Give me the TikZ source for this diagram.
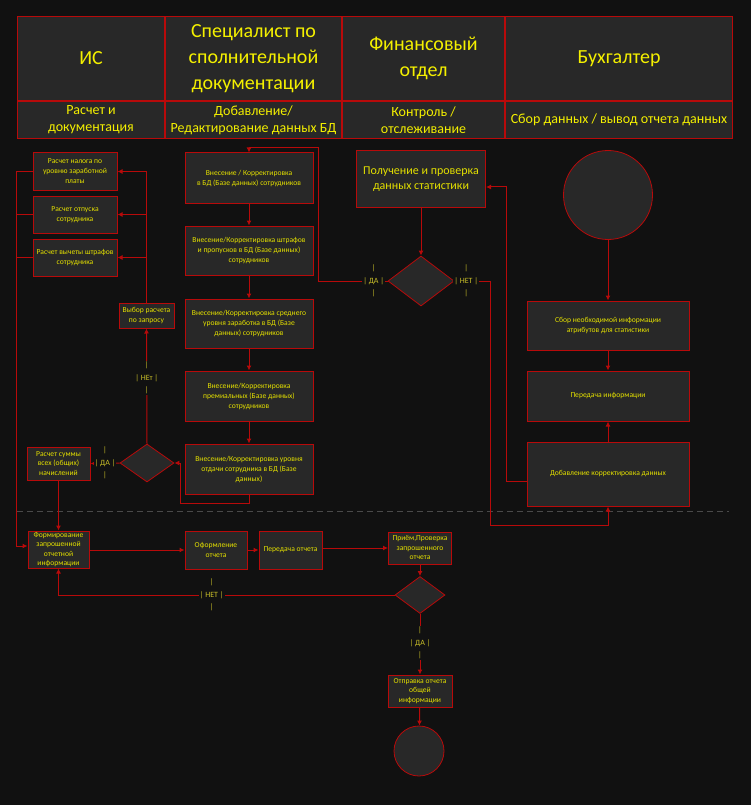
\documentclass[tikz,border=0pt]{standalone}
\usepackage{fontspec}
\setmainfont{Carlito}
\usetikzlibrary{arrows.meta, positioning, shapes.geometric}
\definecolor{bg}{HTML}{111111}
\definecolor{boxbg}{HTML}{282828}
\definecolor{brd}{HTML}{B80A0A}
\definecolor{txt}{HTML}{E4E000}
\definecolor{hdrtxt}{HTML}{F4F000}
\definecolor{lbltxt}{HTML}{C8BE28}
\definecolor{dashgray}{HTML}{4A4A4A}

\begin{document}
\begin{tikzpicture}[x=1pt, y=-1pt,
  blok/.style={draw=brd, line width=1pt, fill=boxbg, text=txt, align=center, inner sep=0pt, font=\fontsize{7.6}{10}\selectfont},
  romb/.style={draw=brd, line width=0.8pt, fill=boxbg, shape=diamond, inner sep=0pt},
  krug/.style={draw=brd, line width=0.8pt, fill=boxbg, shape=circle, inner sep=0pt},
  hdr/.style={draw=brd, line width=1pt, fill=boxbg, text=hdrtxt, align=center, inner sep=0pt, minimum height=84, font=\fontsize{20}{26}\selectfont},
  sub/.style={hdr, minimum height=37, font=\fontsize{14}{17}\selectfont},
  ln/.style={draw=brd, line width=1pt},
  arr/.style={ln, -{Latex[length=5pt, width=5pt]}},
  lbl/.style={fill=bg, text=lbltxt, inner sep=1pt, align=center, font=\fontsize{8}{12.5}\selectfont}]

  % Background and picture size
  \fill[bg] (0,0) rectangle (751,805);

  % Header of lanes
  \node[hdr, minimum width=147, anchor=north west] (hIS) at (17,16) {ИС};
  \node[hdr, minimum width=176, right=0pt of hIS] (hSpec) {Специалист по\\сполнительной\\документации};
  \node[hdr, minimum width=162, right=0pt of hSpec] (hFin) {Финансовый\\отдел};
  \node[hdr, minimum width=227, right=0pt of hFin] (hBuh) {Бухгалтер};
  \node[sub, minimum width=147, below=0pt of hIS] (sIS) {Расчет и\\документация};
  \node[sub, minimum width=176, below=0pt of hSpec] (sSpec) {Добавление/\\Редактирование данных БД};
  \node[sub, minimum width=162, below=0pt of hFin] (sFin) {Контроль /\\отслеживание};
  \node[sub, minimum width=227, below=0pt of hBuh] (sBuh) {Сбор данных / вывод отчета данных};

  % Lane IS
  \node[blok, minimum width=84, minimum height=37] (nalog) at (75,171.5) {Расчет налога по\\уровню заработной\\платы};
  \node[blok, minimum width=84, minimum height=37] (otpusk) at (75,214.5) {Расчет отпуска\\сотрудника};
  \node[blok, minimum width=84, minimum height=37] (shtraf) at (75,257.5) {Расчет вычеты штрафов\\сотрудника};
  \node[blok, minimum width=55, minimum height=25] (vybor) at (146.5,315.5) {Выбор расчета\\по запросу};
  \node[romb, minimum width=54, minimum height=38] (rIS) at (147,463) {};
  \node[blok, minimum width=63, minimum height=33, font=\fontsize{7.6}{9.3}\selectfont] (summa) at (58.5,463.5) {Расчет суммы\\всех (общих)\\начислений};

  % Lane specialist
  \node[blok, minimum width=128, minimum height=50] (vn1) at (249,178) {Внесение / Корректировка\\в БД (Базе данных) сотрудников};
  \node[blok, minimum width=128, minimum height=49] (vn2) at (249,250.5) {Внесение/Корректировка штрафов\\и пропусков в БД (Базе данных)\\сотрудников};
  \node[blok, minimum width=128, minimum height=49] (vn3) at (249,323.5) {Внесение/Корректировка среднего\\уровня заработка в БД (Базе\\данных) сотрудников};
  \node[blok, minimum width=128, minimum height=50] (vn4) at (249,396) {Внесение/Корректировка\\премиальных (Базе данных)\\сотрудников};
  \node[blok, minimum width=128, minimum height=50] (vn5) at (249,469) {Внесение/Корректировка уровня\\отдачи сотрудника в БД (Базе\\данных)};

  % Lane finance
  \node[blok, minimum width=129, minimum height=56, font=\fontsize{12}{15}\selectfont] (pol) at (421,179) {Получение и проверка\\данных статистики};
  \node[romb, minimum width=66, minimum height=50] (rFin) at (421,281) {};

  % Lane accountant
  \node[krug, minimum size=89] (start) at (608,195) {};
  \node[blok, minimum width=162, minimum height=49] (sbor) at (608,325.5) {Сбор необходимой информации\\атрибутов для статистики};
  \node[blok, minimum width=162, minimum height=50] (pered) at (608,396) {Передача информации};
  \node[blok, minimum width=162, minimum height=64] (dobav) at (608,474) {Добавление корректировка данных};

  % Separator
  \draw[dashgray, line width=1pt, dash pattern=on 6pt off 4pt] (17,511) -- (729,511);

  % Report part
  \node[blok, minimum width=61, minimum height=37, font=\fontsize{7.6}{9.3}\selectfont] (form) at (58.5,549.5) {Формирование\\запрошенной\\отчетной\\информации};
  \node[blok, minimum width=62, minimum height=38] (oform) at (216,550) {Оформление\\отчета};
  \node[blok, minimum width=63, minimum height=38] (peredO) at (290.5,550) {Передача отчета};
  \node[blok, minimum width=63, minimum height=32, font=\fontsize{7.6}{9.5}\selectfont] (priem) at (420,548) {Приём,Проверка\\запрошенного\\отчета};
  \node[romb, minimum width=50, minimum height=37] (rBot) at (420,595) {};
  \node[blok, minimum width=64, minimum height=32, font=\fontsize{7.6}{9.5}\selectfont] (otpr) at (420,691) {Отправка отчета\\общей\\информации};
  \node[krug, minimum size=50] (kon) at (419,751) {};

  % Connectors of lane IS
  \draw[ln] (nalog.west) -- ++(-16,0) coordinate (lft);
  \draw[ln] (otpusk.west) -- (otpusk.west -| lft);
  \draw[ln] (shtraf.west) -- (shtraf.west -| lft);
  \draw[arr] (lft) |- ([yshift=3.5pt]form.west);
  \draw[ln] (vybor.north) -- (vybor.north |- nalog.east);
  \draw[arr] (vybor.north |- nalog.east) -- (nalog.east);
  \draw[arr] (vybor.north |- otpusk.east) -- (otpusk.east);
  \draw[arr] (vybor.north |- shtraf.east) -- (shtraf.east);
  \draw[arr] (rIS.north) -- node[lbl, pos=0.57] {|\\| НЕт |\\|} (vybor.south);
  \draw[arr] (rIS.west) -- node[lbl, pos=0.5] {|\\| ДА |\\|} (summa.east);
  \draw[arr] (vn5.south) -- ++(0,9) -| ([xshift=6pt]rIS.east) -- (rIS.east);
  \draw[arr] (summa.south) -- (form.north);

  % Connectors of lane specialist
  \draw[arr] (vn1) -- (vn2);
  \draw[arr] (vn2) -- (vn3);
  \draw[arr] (vn3) -- (vn4);
  \draw[arr] (vn4) -- (vn5);

  % Connectors of lane finance
  \draw[arr] (pol) -- (rFin);
  \draw[arr] (rFin.west) -- node[lbl, pos=0.2] {|\\| ДА |\\|} (318,281) -- (318,148) -| (vn1.north);
  \draw[arr] (rFin.east) -- node[lbl, pos=0.33] {|\\| НЕТ |\\|} (490,281) -- (490,525) -| (dobav.south);

  % Connectors of lane accountant
  \draw[arr] (start) -- (sbor);
  \draw[arr] (sbor) -- (pered);
  \draw[arr] (dobav) -- (pered);
  \draw[arr] ([yshift=-7pt]dobav.west) -- ++(-20,0) |- ([yshift=-8pt]pol.east);

  % Connectors of report part
  \draw[arr] (form.east |- oform.west) -- (oform.west);
  \draw[arr] (oform) -- (peredO);
  \draw[arr] (peredO.east |- priem.west) -- (priem.west);
  \draw[arr] (priem) -- (rBot);
  \draw[arr] (rBot.west) -- node[lbl, pos=0.544] {|\\| НЕТ |\\|} (rBot.west -| form.south) -- (form.south);
  \draw[arr] (rBot.south) -- node[lbl, pos=0.48] {|\\| ДА |\\|} (otpr.north);
  \draw[arr] (otpr) -- (kon);
\end{tikzpicture}
\end{document}
